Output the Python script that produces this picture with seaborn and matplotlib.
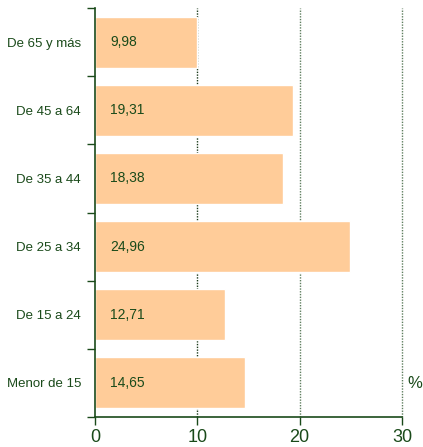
import matplotlib
matplotlib.use("Agg")
import matplotlib.pyplot as plt
import seaborn as sns
import pandas as pd
import numpy as np

categories = ["De 65 y más", "De 45 a 64", "De 35 a 44", "De 25 a 34", "De 15 a 24", "Menor de 15"]
values = [9.98, 19.31, 18.38, 24.96, 12.71, 14.65]
value_labels = ["9,98", "19,31", "18,38", "24,96", "12,71", "14,65"]
xticks = [0, 10, 20, 30]

sns.set_style("white")
plt.rcParams['font.family'] = ['Liberation Sans', 'DejaVu Sans']

green = "#1a4a1a"
grid_colors = ["#1a3a1a", "#5f7f5f", "#5f7f5f"]
bar_color = "#FFCC99"

df = pd.DataFrame({"cat": categories, "val": values})

fig = plt.figure(figsize=(4.23, 4.47), dpi=100)
ax = fig.add_axes([95/423, 1 - 417/447, (402 - 95)/423, (417 - 8)/447])

sns.barplot(data=df, y="cat", x="val", order=categories, orient="h",
            color=bar_color, saturation=1, width=0.75, ax=ax, zorder=2)

ax.set_xlim(0, 30)
ax.set_ylim(len(categories) - 0.5, -0.5)
ax.set_xlabel("")
ax.set_ylabel("")

for x, c in zip(xticks[1:], grid_colors):
    ax.axvline(x, color=c, linestyle=(0, (1, 1)), linewidth=1.0, zorder=1, clip_on=False)

for i, lab in enumerate(value_labels):
    ax.text(1.5, i, lab, va="center", ha="left", fontsize=10, color=green, zorder=3)

ax.set_xticks(xticks)
ax.set_xticklabels([str(t) for t in xticks], fontsize=13, color=green)
ax.set_yticks(range(len(categories)))
ax.set_yticklabels(categories, fontsize=9.5, color=green)
ax.tick_params(axis="y", which="major", length=0, pad=10, left=False)
ax.set_yticks(np.arange(-0.5, len(categories)), minor=True)
ax.tick_params(axis="y", which="minor", length=6, color=green, width=1, direction="out", left=True)
ax.tick_params(axis="x", which="major", length=6, color=green, width=1, direction="out", pad=3, bottom=True)

for s in ["top", "right"]:
    ax.spines[s].set_visible(False)
for s in ["left", "bottom"]:
    ax.spines[s].set_color(green)
    ax.spines[s].set_linewidth(1.2)

ax.text(415/423, 1 - 383/447, "%", transform=fig.transFigure, fontsize=12,
        color=green, va="center", ha="center")

fig.savefig("out.png", dpi=100)
